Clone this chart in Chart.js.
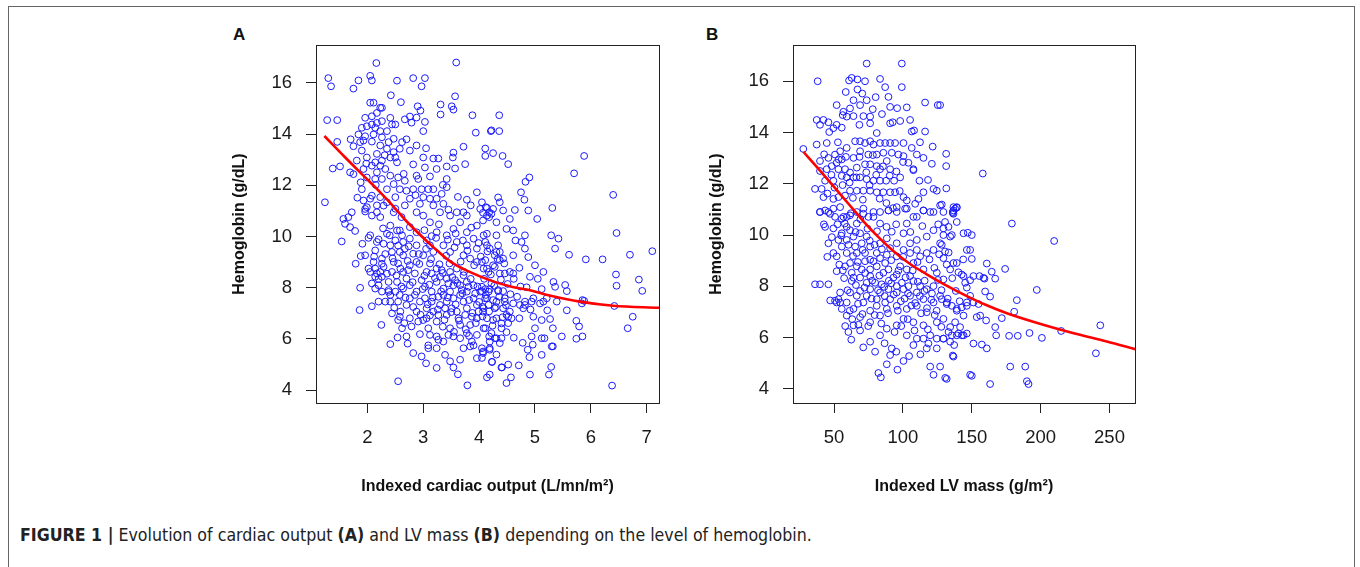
<!DOCTYPE html>
<html>
<head>
<meta charset="utf-8">
<script src="https://cdn.jsdelivr.net/npm/chart.js@4.4.1/dist/chart.umd.min.js"></script>
<style>
  body { margin: 0; background: #fff; width: 1360px; height: 567px; overflow: hidden; position: relative; font-family: "Liberation Sans", Arial, sans-serif; }
  #frame { position: absolute; left: 8px; top: 6px; width: 1347px; height: 620px; border: 1.5px solid #666; box-sizing: border-box; }
  canvas { position: absolute; top: 20px; }
  #cvA { left: 200px; }
  #cvB { left: 677px; }
  .panel { position: absolute; font-weight: bold; font-size: 17px; color: #111; top: 25px; }
  #caption { position: absolute; left: 20px; top: 525px; white-space: nowrap; font-family: "Liberation Sans Narrow", "DejaVu Sans Condensed", "Liberation Sans", sans-serif; font-size: 18px; color: #222; }
  #caption b { font-weight: bold; }
</style>
</head>
<body>
<div id="frame"></div>
<div class="panel" style="left:233px">A</div>
<div class="panel" style="left:706px">B</div>
<canvas id="cvA" width="480" height="503"></canvas>
<canvas id="cvB" width="479" height="503"></canvas>
<div id="caption"><b>FIGURE 1 |</b> Evolution of cardiac output <b>(A)</b> and LV mass <b>(B)</b> depending on the level of hemoglobin.</div>
<script>
// panel A: indexed cardiac output vs hemoglobin
const cardiacOutputHb = [
  [2.16,16.78],[3.59,16.80],[1.30,16.19],[1.35,15.87],[1.75,15.78],[1.84,16.10],[2.05,16.28],[2.08,16.10],[2.53,16.09],[2.82,16.19],[2.97,15.87],[3.03,16.19],[3.57,15.48],
  [2.05,15.23],[2.11,15.23],[2.23,15.03],[2.17,14.83],[2.26,15.03],[2.60,15.25],[2.90,15.09],[3.31,15.16],[3.31,14.77],[3.51,15.09],[3.54,14.96],[3.88,14.74],[4.36,14.74],[1.28,14.55],[1.46,14.55],
  [1.96,14.64],[2.08,14.70],[1.99,14.31],[2.08,14.38],[2.17,14.44],[2.26,14.51],[2.41,14.64],[2.44,14.38],[2.50,14.38],[2.35,14.12],[2.23,14.12],[2.14,14.25],[1.90,14.25],[1.84,13.99],[1.96,13.92],[2.11,13.99],
  [2.67,14.58],[2.76,14.69],[2.88,14.65],[2.79,14.45],[3.03,14.48],[3.00,14.12],[3.94,14.06],[4.21,14.12],[4.36,14.12],[1.46,13.70],
  [1.70,13.80],[1.87,13.69],[1.75,13.53],[1.93,13.75],[2.08,13.71],[2.26,13.88],[2.38,13.69],[2.47,13.82],[2.62,13.69],[2.70,13.80],[2.76,13.36],[2.88,13.56],[2.58,13.43],[2.47,13.30],[2.35,13.43],[2.23,13.56],
  [2.17,13.23],[2.41,13.09],[2.50,13.09],[2.53,12.90],[2.26,12.97],[2.14,12.90],[1.99,13.09],[1.90,13.36],[1.81,12.97],[1.69,12.51],[1.75,12.44],[1.93,12.64],[2.08,12.77],[2.23,12.77],[2.32,12.64],[2.17,12.51],
  [1.99,12.31],[2.14,12.25],[2.26,12.25],[2.41,12.38],[2.55,12.31],[2.67,12.18],[2.47,12.05],[2.35,11.85],[2.58,11.85],[2.70,11.79],[2.82,11.85],[2.91,12.25],[2.88,12.38],[3.00,13.09],[3.03,12.70],[2.97,11.85],
  [3.09,11.85],[3.18,11.85],[3.24,12.64],[3.42,12.74],[3.57,12.66],[3.42,12.25],[3.42,11.93],[3.33,11.67],[3.24,11.48],[3.36,11.28],[3.12,11.48],[3.00,11.54],[2.94,11.28],[2.76,11.48],[2.67,11.22],[2.50,11.54],
  [2.50,11.09],[2.35,11.34],[2.23,11.54],[2.05,11.48],[1.99,11.15],[1.93,11.41],[1.90,11.85],[2.08,11.60],[1.96,10.98],[2.17,11.22],[3.60,10.95],[3.78,10.82],
  [1.24,11.34],[4.37,11.34],[4.34,11.53],[4.12,11.15],[4.18,10.95],[4.18,10.76],[3.78,11.44],[3.96,11.73],[4.55,10.69],
  [3.72,13.51],[4.11,13.44],[4.25,13.26],[4.42,13.15],[4.11,13.15],[3.54,13.28],[3.53,13.09],[3.18,13.05],[3.27,13.05],[1.38,12.66],[1.51,12.74],[4.52,12.83],[3.75,12.83],
  [4.22,14.15],[5.88,13.15],[5.70,12.47],[4.90,12.31],[4.83,12.14],[4.75,11.73],[4.81,11.44],[6.40,11.63],[5.31,11.12],[4.64,11.04],[4.88,11.02],[4.14,11.12],[4.07,10.93],[5.04,10.69],
  [6.46,10.14],[4.61,10.24],[4.82,10.05],[4.76,9.79],[4.82,9.53],[4.88,9.20],[5.29,10.05],[5.42,9.92],[5.36,9.53],[5.61,9.29],[5.91,9.11],[6.21,9.11],[6.70,9.29],[7.10,9.43],[6.45,8.52],[6.46,8.08],
  [6.86,8.32],[6.92,7.88],[5.88,7.49],[5.84,7.39],[6.42,7.29],[5.57,7.12],[6.75,6.87],[6.66,6.42],[5.74,6.71],[5.79,6.49],[5.85,6.10],[5.74,6.01],[5.48,6.10],[5.32,5.71],[5.29,4.91],[5.25,4.61],
  [5.12,5.38],[4.90,5.29],[4.87,5.58],[4.71,4.97],[4.41,4.89],[4.91,4.61],[4.57,4.50],[4.49,4.28],[6.38,4.18],[4.23,5.11],
  [4.05,7.87],[4.11,7.95],[4.19,7.95],[4.34,7.87],[4.43,7.87],[4.11,7.59],[4.25,7.52],[4.06,7.26],[4.07,7.07],[4.25,6.74],[4.40,6.61],[4.58,6.81],[4.72,6.81],[4.52,6.87],[4.11,6.42],[4.18,6.10],
  [4.31,6.03],[4.40,6.03],[4.49,6.27],[4.19,5.58],[4.07,5.45],
  [5.00,8.88],[5.15,8.62],[4.91,8.43],[5.12,7.95],[5.33,8.23],[5.36,8.04],[5.54,8.11],[5.57,7.87],[5.15,7.46],[4.94,7.46],[4.82,7.33],[4.97,6.87],[5.12,6.74],[5.27,6.78],[5.32,6.42],[5.00,6.42],
  [4.94,6.10],[5.12,6.03],[5.17,6.03],[5.30,5.71],[5.85,7.52],[5.39,7.46],
  [4.14,8.75],[4.17,8.62],[4.37,8.56],[4.46,8.56],[4.55,8.62],[4.61,8.56],[4.11,9.08],[4.28,9.27],[4.37,9.40],[4.61,9.27],[4.14,10.11],[4.31,10.05],[4.07,10.63],[4.22,10.89],
  [4.05,11.34],[4.11,9.79],[4.19,9.53],[4.34,9.66],[4.37,9.08],[4.05,9.01],[4.28,8.82],
  [4.46,7.46],[4.61,7.39],[4.73,7.33],[4.82,7.46],[4.55,7.07],[4.79,7.20],[4.97,7.59],[5.09,7.39],[5.21,7.59],
  [1.54,9.81],[1.91,9.72],[1.79,8.94],[1.88,9.24],[1.87,8.00],[1.86,7.13],[1.57,10.69],[1.66,10.76],[1.72,10.95],[1.69,10.37],[1.60,10.50],[1.96,11.08],[2.08,10.82],[2.23,10.76],[2.17,10.95],[2.20,9.89],
  [2.17,9.79],[2.41,10.43],[2.58,10.24],[2.44,9.40],[2.58,9.40],[2.47,9.01],[2.26,9.14],[2.26,8.94],[2.29,8.82],[2.05,8.62],[2.14,8.75],[2.17,8.56],[2.23,8.62],[2.20,8.34],[2.14,8.43],[2.38,7.91],
  [2.41,7.46],[2.55,7.46],[2.58,7.72],[2.38,7.84],[2.58,6.87],[2.55,6.74],[2.76,6.81],[3.00,6.74],[2.54,6.06],[2.70,6.10],[2.41,5.80],[2.94,6.19],[3.09,5.75],[3.09,5.64],[3.12,6.16],[2.82,5.45],
  [2.55,4.35],[3.24,6.10],[3.27,5.97],[3.36,5.90],[3.54,6.10],[3.54,4.89],[3.66,5.19],[3.79,4.19],[3.78,6.23],[3.90,5.75],[3.84,5.71],[4.07,5.51],[4.19,5.64],[4.23,5.10],[4.40,4.89],[4.14,4.50],
  [4.28,6.03],[4.37,5.84],
  [2.76,10.37],[2.88,10.17],[2.76,9.92],[2.64,9.79],[2.88,9.66],[3.06,9.85],[3.12,9.66],[3.00,9.27],[3.18,9.40],[3.12,8.95],[3.06,8.62],[3.24,8.75],[3.30,8.43],[3.42,8.36],[3.24,8.23],[3.36,7.97],
  [3.48,8.62],[3.60,8.75],[3.72,8.49],[3.78,8.23],[3.90,8.10],[4.02,7.85],[3.78,7.85],[3.66,7.72],[3.54,7.59],[3.42,7.46],[3.30,7.33],[3.18,7.07],[3.06,7.20],[2.94,7.46],[2.88,7.85],[2.76,8.10],
  [2.70,8.36],[2.64,8.62],[2.76,8.88],[2.88,9.01],[2.82,9.33],[2.64,9.27],[2.59,8.75],[2.53,8.23],[2.64,7.97],[2.76,7.59],[2.70,7.33],[2.88,7.07],[3.06,6.81],[3.24,6.68],[3.42,6.94],[3.60,7.07],
  [3.78,7.20],[3.96,7.33],[4.08,7.20],[4.14,7.59],[4.31,7.46],[4.43,7.20],[4.49,6.94],[4.31,6.81],[4.14,6.81],[3.96,6.81],[3.84,6.55],[3.66,6.55],[3.48,6.42],[3.72,7.46],[3.90,7.59],[3.54,8.10],
  [3.66,8.10],[3.48,7.85],[3.36,7.72],[3.60,9.79],[3.78,9.66],[3.96,9.53],[4.14,9.66],[4.31,9.40],[4.43,9.14],[4.25,8.88],[4.08,8.75],[3.96,9.01],[3.84,9.14],[3.72,9.27],[3.48,9.40],[3.36,9.66],
  [3.42,10.05],[3.54,10.30],[3.66,10.56],[3.78,10.17],[3.96,10.43],[4.14,10.82],[4.31,10.56],[4.49,10.30],[4.08,10.05],[3.90,9.92],[3.24,10.17],[3.12,10.56],[3.00,10.82],[2.88,10.95],[3.30,10.95],[3.48,10.82],
  [3.72,10.95],[4.02,11.08],[4.25,11.08],[4.43,11.02],
  [3.15,8.56],[3.33,8.69],[3.45,8.17],[3.57,8.30],[3.69,7.91],[3.81,8.04],[3.93,7.78],[4.05,8.04],[4.17,7.85],[4.22,8.17],[4.34,7.91],[4.46,7.59],[4.28,7.20],[4.17,7.33],[3.99,7.07],[3.87,6.87],
  [3.75,6.94],[3.63,6.81],[3.51,7.20],[3.39,7.20],[3.27,7.65],[3.15,7.85],[3.03,8.04],[2.97,8.30],[2.85,8.56],[2.73,8.69],[2.55,8.95],[2.44,8.62],[2.50,7.85],[2.38,8.23],[2.32,7.46],[2.26,7.85],
  [2.20,7.46],[2.14,7.97],[2.08,8.17],[2.26,8.43],[3.03,7.59],[3.15,7.46],[3.27,6.94],[3.09,6.42],[2.91,6.68],[2.79,6.49],[2.62,6.42],[2.44,7.00],[3.45,6.16],[3.66,6.03],[3.96,6.16],[4.08,6.42],
  [4.22,6.23],[4.40,6.42],[4.52,6.62],[4.19,5.90],[4.05,5.64],[3.87,5.90],[3.72,5.64],[3.39,5.38],[3.24,5.64],[2.97,5.32],[3.24,4.87],[3.48,5.13],[4.05,5.26],[4.31,5.39],[4.52,5.00],[4.19,4.61],
  [2.29,11.21],[2.47,10.95],[2.61,10.76],[2.53,10.24],[2.35,10.11],[2.29,9.72],[2.50,9.85],[2.67,9.53],[2.41,9.66],[2.14,9.46],[2.05,10.05],[1.96,9.27],[2.11,9.01],[2.02,8.75],[2.20,8.10],[2.41,7.72],
  [2.59,7.07],
  [2.45,9.15],[2.52,8.48],[2.61,8.05],[2.68,7.62],[2.72,9.05],[2.81,8.22],[2.85,7.72],[2.93,8.93],[2.99,7.95],[3.02,8.47],[3.05,9.52],[3.08,7.35],[3.11,8.12],[3.14,9.12],[3.17,7.62],[3.21,8.38],
  [3.23,9.95],[3.26,7.15],[3.29,8.92],[3.32,7.86],[3.35,8.58],[3.38,6.75],[3.41,9.25],[3.44,7.62],[3.47,8.95],[3.50,7.05],[3.52,8.42],[3.56,9.58],[3.58,7.35],[3.61,8.18],[3.64,6.72],[3.67,9.02],
  [3.70,7.78],[3.73,8.62],[3.76,6.38],[3.79,9.45],[3.82,7.52],[3.85,8.35],[3.88,7.02],[3.91,8.88],[3.94,6.62],[3.97,8.05],[4.00,7.45],[4.03,9.22],[4.06,6.88],[4.09,8.35],[4.12,7.72],[4.15,9.42],
  [4.18,7.08],[4.21,8.52],[4.24,6.52],[4.27,8.08],[4.30,7.25],[4.33,9.12],[4.36,7.65],[4.39,8.32],[4.42,6.85],[4.45,8.95],[4.48,7.32],[4.51,8.15],[4.56,7.75],[4.62,8.35],[4.68,7.65],[4.74,8.05],
  [3.02,10.25],[3.15,10.02],[3.28,10.48],[3.44,9.88],[3.58,10.12],[3.71,9.85],[3.86,10.35],[3.99,9.75],[2.62,10.05],[2.74,9.62],[2.92,9.32],[2.55,9.65],[3.12,6.92],[3.35,6.48],[3.55,6.28],[3.82,6.12],
  [2.95,6.95],[2.82,7.25],[2.66,6.62],[2.48,7.22],[2.35,8.55],[2.32,9.32],[2.40,10.05],[2.12,9.22],[2.02,9.95],[2.28,10.32],[3.85,11.22],[3.62,11.55],[3.45,11.05],[3.18,11.22],[2.86,11.62],[2.65,12.45],
  [2.82,12.82],[3.12,12.35],[3.35,12.02],[3.05,13.45],[2.95,14.92],[2.42,15.52],[2.31,13.18],[2.15,12.02],[1.98,12.85],[1.88,12.12],[1.82,11.52],[1.78,10.22],[4.65,9.85],[4.72,8.78],[4.85,8.02],[4.92,7.15],
  [5.05,8.35],[5.22,7.12],[4.62,6.05],[4.78,5.85],[4.96,5.78],[3.96,5.25],[3.62,4.62],[3.05,5.05],[2.72,5.82],[2.25,6.55],[2.08,7.28]
];
// red fitted curve of panel A
const fitA = [[1.23,13.93],[1.6,13.1],[1.93,12.38],[2.23,11.73],[2.4,11.34],[2.7,10.6],[3.2,9.55],[3.5,9.0],[3.8,8.65],[4.25,8.25],[4.6,8.03],[4.91,7.9],[5.3,7.68],[5.8,7.46],[6.4,7.3],[7.22,7.22]];

// panel B: indexed LV mass vs hemoglobin
const lvMassHb = [
  [73.7,16.69],[99.2,16.69],[38.1,16.0],[60.9,16.03],[62.8,16.13],[67.0,16.07],[72.5,16.0],[83.4,16.09],[87.1,15.77],[99.2,15.77],[67.0,15.68],[89.5,15.39],[64.1,15.26],[73.7,15.26],[68.9,15.07],[51.9,15.07],
  [61.6,14.94],[56.8,14.81],[78.1,14.91],[90.7,15.0],[102.8,14.98],[116.1,15.17],[125.3,15.07],[56.3,14.68],[59.2,14.62],[64.1,14.64],[71.3,14.64],[76.2,14.62],[37.4,14.49],[42.3,14.49],[39.8,14.30],[45.9,14.40],
  [51.9,14.30],[55.6,14.19],[49.5,14.17],[68.4,14.30],[76.2,14.36],[81.0,13.98],[90.7,14.36],[92.6,14.40],[98.0,14.45],[105.2,14.49],[108.1,14.08],[106.4,14.04],[116.1,14.04],[27.7,13.36],
  [37.4,13.53],[44.7,13.59],[39.8,12.89],[45.9,13.01],[50.7,13.14],[54.4,13.27],[59.2,13.40],[65.3,13.66],[68.9,13.66],[72.5,13.59],[76.2,13.66],[78.6,13.53],[83.4,13.59],[87.1,13.59],[90.7,13.59],[94.3,13.59],
  [100.4,13.59],[106.4,13.40],[110.1,13.14],[114.9,13.01],[121.0,12.78],[131.4,13.17],[131.4,12.69],[100.4,13.08],[104.0,12.82],[107.6,12.57],[96.7,13.14],[91.9,13.21],[85.8,13.21],[81.0,13.14],[74.9,13.14],[68.9,13.27],
  [64.1,13.01],[55.6,12.95],[51.9,12.82],[48.3,12.69],[44.7,12.57],[39.8,12.50],[53.2,12.57],[58.0,12.57],[61.6,12.44],[66.5,12.63],[72.5,12.76],[76.2,12.76],[81.0,12.69],[83.4,12.57],[88.3,12.89],[90.7,12.57],
  [93.6,12.12],[98.0,12.25],[87.8,12.12],[83.4,12.12],[78.6,12.12],[73.7,12.18],[68.9,12.25],[64.1,12.25],[59.2,12.25],[55.6,12.31],[49.5,12.12],[43.5,12.12],[36.2,11.80],[41.0,11.80],[42.3,11.48],[49.5,11.41],
  [53.2,11.48],[58.0,11.54],[61.6,11.73],[66.5,11.73],[71.3,11.73],[76.2,11.73],[81.0,11.67],[85.8,11.67],[90.7,11.67],[94.3,11.67],[100.4,11.48],[102.8,11.35],[108.9,11.22],[111.3,11.41],[114.9,11.67],[122.2,11.80],
  [124.6,11.73],[112.0,12.12],[107.6,12.53],[114.9,10.96],[119.8,10.90],[127.0,11.16],[136.2,10.90],[139.1,11.09],[39.8,10.90],[45.9,10.90],[49.5,11.03],[54.4,11.09],[56.8,10.71],[61.6,10.77],[66.5,10.90],[71.3,11.03],
  [74.9,10.71],[78.6,10.90],[83.4,10.90],[89.5,10.96],[95.5,10.90],[101.6,11.03],[107.6,10.71],
  [127.0,15.07],[158.0,12.40],[128.2,11.19],[137.9,11.03],[136.2,10.86],[130.6,10.51],[179.1,10.45],
  [209.8,9.77],[243.3,6.48],[240.1,5.39],[197.2,7.86],[182.7,7.46],[180.8,7.01],[171.8,6.76],[214.9,6.26],[200.9,5.99],[191.9,6.18],[183.4,6.07],[177.1,6.07],[167.7,6.09],[167.0,6.41],[174.2,8.68],
  [160.9,8.89],[164.5,8.57],[167.0,8.30],[159.2,8.30],[159.7,7.80],[163.3,7.60],[148.8,9.42],[150.0,9.07],[147.1,10.09],[150.0,10.00],[133.1,10.32],[129.4,10.00],[135.5,10.00],[136.7,11.09],[139.1,11.07],[136.7,10.83],
  [128.2,9.62],[130.6,9.36],[129.4,9.10],[131.8,8.85],[136.7,8.91],[140.3,8.55],[142.7,8.46],[145.2,8.14],[148.8,8.24],[146.4,7.95],[151.2,8.40],[155.6,8.40],[158.5,8.33],
  [128.2,7.50],[131.8,7.31],[135.5,7.24],[139.1,7.05],[142.7,7.18],[146.4,7.37],[151.2,7.37],[154.9,7.31],[156.1,6.86],[160.4,6.67],[153.6,6.80],[144.0,6.86],[137.9,6.60],[141.5,6.41],[133.1,6.22],[140.3,6.16],
  [144.0,6.09],[129.4,5.96],[135.5,6.09],[151.2,5.77],[157.3,5.73],[160.9,5.58],[137.2,5.71],[136.2,5.30],[127.0,4.87],[131.8,4.39],[150.0,4.51],[163.3,4.19],[177.9,4.87],[188.8,4.87],[190.0,4.30],[191.2,4.19],
  [36.2,8.08],[39.8,8.08],[45.9,8.08],[51.9,7.37],[53.2,7.50],[54.4,7.76],[61.6,7.76],[62.8,8.21],[64.1,8.34],[59.2,7.37],[68.9,7.82],[71.3,7.37],[76.2,7.89],[81.0,7.50],[83.4,7.76],[87.1,7.37],
  [90.7,7.50],[95.5,7.76],[100.4,7.89],[105.2,7.63],[110.1,7.76],[114.9,7.50],[122.2,7.37],[127.0,7.63],[131.9,7.37],[139.1,7.12],[146.4,7.24],[148.8,7.63],
  [59.2,6.86],[67.7,6.50],[68.9,6.80],[76.2,6.60],[83.4,6.86],[88.3,6.35],[95.5,6.48],[102.8,6.09],[110.1,5.96],[114.9,5.96],[119.8,6.09],[124.6,5.96],[129.4,5.96],[107.6,5.71],[117.3,5.58],[118.5,5.77],
  [91.9,5.58],[90.7,5.32],[88.3,4.96],[82.2,4.62],[100.4,5.09],[119.8,4.87],[122.2,4.55],[130.7,4.43],[136.7,5.26],[142.8,6.09],[146.4,6.16],[148.8,4.55],[64.1,7.12],[76.2,7.05],[84.0,4.45],[96.0,4.75],
  [39.8,10.90],[43.5,10.96],[47.1,10.83],[50.7,10.71],[55.6,10.64],[59.2,10.71],[43.5,10.32],[49.5,10.26],[55.6,10.07],[49.5,9.30],[51.9,9.17],[55.6,9.55],[59.2,9.81],[61.6,10.19],[66.5,10.45],[68.9,10.07],
  [70.1,9.68],[73.7,9.94],[76.2,9.55],[66.5,9.30],[61.6,8.91],[58.0,8.78],[62.8,8.53],[70.1,8.66],[76.2,9.04],[81.0,9.30],[83.4,9.68],[88.3,9.87],[90.7,9.49],[95.5,9.17],[98.0,8.78],[102.8,8.66],
  [107.6,8.91],[112.5,9.17],[117.3,9.30],[122.2,9.42],[127.0,9.68],[134.3,9.94],[129.4,10.26],[122.2,10.19],[117.3,9.94],[110.1,9.81],[105.2,9.68],[100.4,10.07],[102.8,10.45],[110.1,10.71],[114.9,10.96],[122.2,10.90],
  [129.4,10.90],[136.7,10.96],[139.1,10.51],[144.0,10.07],[146.4,9.42],[139.1,8.91],[134.3,8.66],[129.4,8.27],[124.6,8.53],[114.9,8.66],[144.0,8.40],[105.2,8.40],[95.5,8.46],[85.8,8.53],[81.0,8.78],[76.2,8.40],
  [89.5,10.96],[95.5,11.09],[102.8,11.03],
  [59.2,9.30],[65.3,9.55],[72.5,9.30],[78.6,8.98],[83.4,9.10],[87.1,8.91],[89.5,8.66],[93.1,8.34],[99.2,8.14],[104.0,8.01],[107.6,8.21],[112.5,8.01],[117.3,7.89],[122.2,8.01],[95.5,8.01],[89.5,7.89],
  [84.6,8.08],[79.8,8.14],[73.7,8.14],[68.9,8.34],[66.5,8.78],[72.5,8.98],[76.2,8.66],[88.3,9.23],[100.4,9.42],[105.2,9.30],[110.1,9.42],[95.5,9.68],[91.9,10.13],[83.4,10.45],[78.6,10.71],[71.3,10.83],
  [64.1,9.94],[59.2,10.32],[53.2,9.81],[45.9,9.68],[51.9,8.59],[66.5,7.63],[73.7,7.63],[81.0,7.24],[88.3,7.12],[95.5,7.24],[102.8,7.12],[110.1,7.24],[117.3,6.99],[100.4,6.73],[107.6,6.60],[114.9,6.48],
  [124.6,6.60],[129.4,6.73],[134.3,6.41],[139.1,6.09],[124.6,5.58],[134.3,5.84],[83.4,6.09],[76.2,5.84],[68.9,6.28],[64.1,6.48],[54.4,7.37],[55.6,7.12],[50.7,7.44],[60.4,6.22],
  [52.5,10.42],[55.2,9.98],[57.8,10.45],[60.5,9.62],[62.2,10.85],[63.8,9.18],[65.6,10.12],[67.3,8.95],[69.1,10.62],[70.8,9.42],[72.6,8.52],[74.3,10.25],[75.9,9.78],[77.7,8.22],[79.4,9.62],[81.2,10.15],
  [82.9,8.42],[84.7,9.45],[86.4,7.98],[88.1,10.32],[89.8,8.22],[91.6,9.02],[93.3,7.68],[95.1,10.42],[96.8,8.62],[98.5,7.42],[100.2,9.15],[101.9,8.35],[103.7,7.72],[105.4,10.12],[107.1,8.62],[108.9,7.35],
  [110.6,8.95],[112.3,7.62],[114.1,10.35],[115.8,8.22],[117.5,7.15],[119.3,9.05],[121.1,7.72],[122.8,8.72],[124.5,7.05],[126.3,9.25],[128.0,7.85],[57.3,8.32],[59.8,7.85],[61.4,7.05],[63.2,6.72],[65.9,8.05],
  [67.4,7.32],[70.6,6.92],[72.1,7.95],[74.8,6.45],[77.2,7.52],[79.5,6.88],[81.9,7.85],[84.3,6.55],[86.8,7.62],[89.2,6.95],[91.5,8.12],[93.9,6.22],[96.3,7.05],[98.8,6.45],[101.2,7.52],[103.5,6.72],
  [106.1,7.25],[108.4,6.28],[110.8,8.18],[113.2,6.95],[115.7,7.82],[118.1,6.32],[120.6,7.48],[123.1,6.88],[125.4,8.25],[127.9,6.42],[45.2,11.62],[48.1,12.35],[50.3,11.85],[53.4,12.95],[56.2,11.95],[58.6,13.05],
  [61.3,12.05],[63.7,11.45],[66.2,12.25],[68.5,13.05],[70.9,11.38],[73.4,12.45],[75.8,11.95],[78.2,13.12],[80.6,12.35],[83.1,11.42],[85.5,12.68],[88.0,11.25],[90.4,12.32],[92.8,11.05],[95.3,12.48],[97.7,11.72],
  [100.1,12.85],[42.8,13.15],[46.5,14.02],[52.8,13.62],[48.4,9.92],[45.1,9.15],[42.6,10.42],[53.8,8.85],[56.4,8.62],[47.2,7.45],[58.1,6.45],[62.5,5.92],[71.2,5.62],[79.8,5.45],[86.7,5.78],[95.2,5.45],
  [104.5,5.28],[112.7,5.35],[132.5,7.52],[135.8,8.32],[138.4,7.82],[141.2,7.42],[143.8,9.05],[133.2,9.32],[125.6,10.42],[131.5,11.82],[118.2,12.15],[112.4,13.62],[121.6,13.45],[95.8,14.95],[84.8,14.72],[70.5,15.52],
  [80.2,15.38],[58.5,15.58]
];
// red fitted curve of panel B
const fitB = [[27.7,13.25],[40,12.5],[50,11.88],[60,11.25],[72,10.5],[83,9.88],[93,9.38],[105,8.88],[117,8.48],[130,8.08],[145,7.66],[160,7.28],[176,6.94],[200,6.53],[224,6.17],[248,5.85],[268.5,5.55]];

const hbTicks = [4, 6, 8, 10, 12, 14, 16];
const coTicks = [2, 3, 4, 5, 6, 7];
const massTicks = [50, 100, 150, 200, 250];

const boxPlugin = {
  id: 'box',
  afterDraw(chart) {
    const a = chart.chartArea, ctx = chart.ctx;
    ctx.save();
    ctx.strokeStyle = '#222';
    ctx.lineWidth = 1;
    ctx.strokeRect(Math.round(a.left) + 0.5, Math.round(a.top) + 0.5, Math.round(a.right - a.left), Math.round(a.bottom - a.top));
    ctx.restore();
  }
};

function makePanel(id, points, fit, xTicks, xTitle, xMin, xMax, yMin, yMax) {
  const tickFont = { family: '"Liberation Sans", Arial, sans-serif', size: 18.5 };
  const titleFont = { family: '"Liberation Sans", Arial, sans-serif', size: 16, weight: 'bold' };
  return new Chart(document.getElementById(id), {
    type: 'scatter',
    data: {
      datasets: [
        { data: fit.map(p => ({ x: p[0], y: p[1] })), showLine: true, borderColor: '#ff0000', borderWidth: 2.6, pointRadius: 0, tension: 0.4, cubicInterpolationMode: 'monotone', order: 0 },
        { data: points.map(p => ({ x: p[0], y: p[1] })), pointStyle: 'circle', pointRadius: 3.4, borderColor: 'rgb(25,25,255)', backgroundColor: 'rgba(0,0,0,0)', borderWidth: 1, order: 1 }
      ]
    },
    options: {
      responsive: false,
      animation: false,
      devicePixelRatio: 1,
      layout: { padding: { top: 19, right: 21, left: 0, bottom: 0 } },
      plugins: { legend: { display: false }, tooltip: { enabled: false } },
      scales: {
        x: {
          type: 'linear', min: xMin, max: xMax,
          afterFit: s => { s.height = 120; },
          afterBuildTicks: s => { s.ticks = xTicks.map(v => ({ value: v })); },
          grid: { display: true, drawOnChartArea: false, drawTicks: true, tickLength: 10, color: '#222' },
          border: { display: true, color: '#222' },
          ticks: { padding: 14, color: '#1a1a1a', font: tickFont, maxRotation: 0 },
          title: { display: true, text: xTitle, color: '#111', font: titleFont, padding: { top: 0, bottom: 26.4 } }
        },
        y: {
          type: 'linear', min: yMin, max: yMax,
          afterFit: s => { s.width = 116; },
          afterBuildTicks: s => { s.ticks = hbTicks.map(v => ({ value: v })); },
          grid: { display: true, drawOnChartArea: false, drawTicks: true, tickLength: 10, color: '#222' },
          border: { display: true, color: '#222' },
          ticks: { padding: 14, color: '#1a1a1a', font: tickFont },
          title: { display: true, text: 'Hemoglobin (g/dL)', color: '#111', font: titleFont, padding: { top: 30.4, bottom: 0 } }
        }
      }
    },
    plugins: [boxPlugin]
  });
}

makePanel('cvA', cardiacOutputHb, fitA, coTicks, 'Indexed cardiac output (L/mn/m²)', 1.08, 7.22, 3.50, 17.48);
makePanel('cvB', lvMassHb, fitB, massTicks, 'Indexed LV mass (g/m²)', 20.2, 268.5, 3.45, 17.41);

// fit the caption to the width it has in the figure
const cap = document.getElementById('caption');
const w = cap.getBoundingClientRect().width;
cap.style.fontSize = (18 * 792 / w).toFixed(2) + 'px';
</script>
</body>
</html>
